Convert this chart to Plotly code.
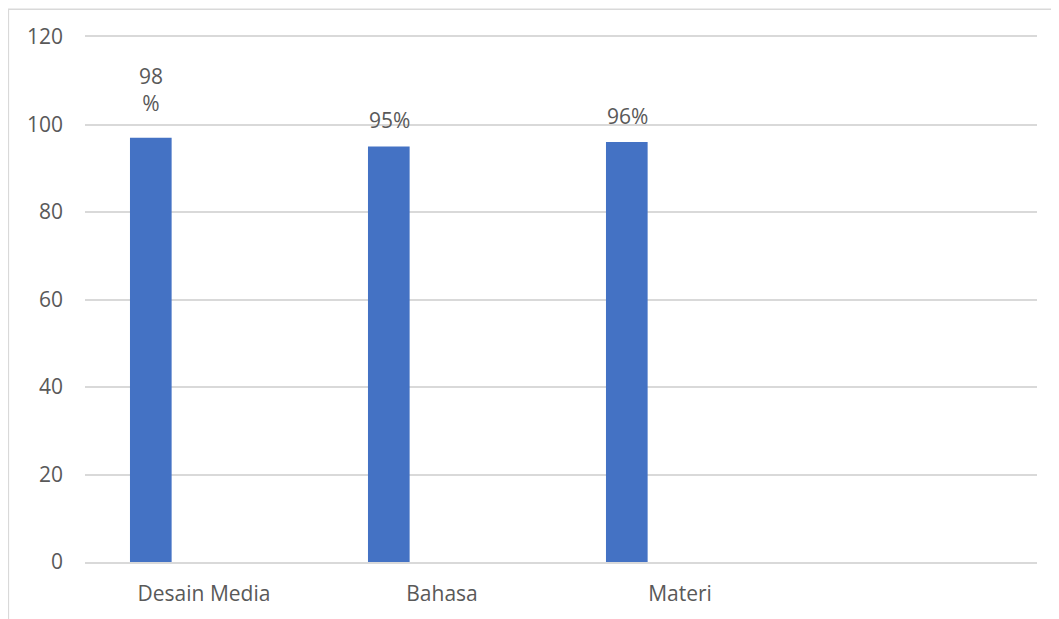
import plotly.graph_objects as go

categories = ["Desain Media", "Bahasa", "Materi"]
values = [97, 95, 96]
labels = ["98<br>%", "95%", "96%"]
y_ticks = [0, 20, 40, 60, 80, 100, 120]

text_color = "#595959"
grid_color = "#D9D9D9"
bar_color = "#4472C4"
font_family = "Open Sans, DejaVu Sans, sans-serif"
fs = 21

fig = go.Figure()
fig.add_trace(go.Bar(
    x=categories, y=values,
    marker=dict(color=bar_color, line=dict(width=0)),
    width=0.175, offset=-0.311,
    hoverinfo="skip",
))

# data labels above each bar
for c, v, t in zip(categories, values, labels):
    multi = "<br>" in t
    fig.add_annotation(
        x=c, y=v, xref="x", yref="y",
        text=t, showarrow=False,
        xanchor="center", yanchor="middle",
        xshift=-53, yshift=(48 if multi else 26),
        font=dict(size=fs, color=text_color, family=font_family),
    )

# outer chart frame (top and left edges visible)
fig.add_shape(type="rect", xref="paper", yref="paper",
              x0=-0.0805, x1=1.2, y0=-0.3, y1=1.0528,
              line=dict(color=grid_color, width=1.5), layer="below")

fig.update_layout(
    width=1051, height=611,
    margin=dict(l=77, r=22, t=28.5, b=56.5, autoexpand=False),
    paper_bgcolor="white", plot_bgcolor="white",
    showlegend=False,
    font=dict(family=font_family, size=fs, color=text_color),
    xaxis=dict(
        type="category", categoryorder="array", categoryarray=categories,
        range=[-0.5, 3.5], showgrid=False, showline=True, mirror=True,
        linecolor=grid_color, linewidth=1.5, ticks="", ticklabelstandoff=12,
        tickfont=dict(size=fs, color=text_color),
        automargin=False, fixedrange=True,
    ),
    yaxis=dict(
        range=[0, 120], tickvals=y_ticks, showgrid=True,
        gridcolor=grid_color, gridwidth=1.5, zeroline=False, showline=False,
        ticks="", ticklabelstandoff=21,
        tickfont=dict(size=fs, color=text_color),
        automargin=False, fixedrange=True,
    ),
)

fig.write_html("out.html")
